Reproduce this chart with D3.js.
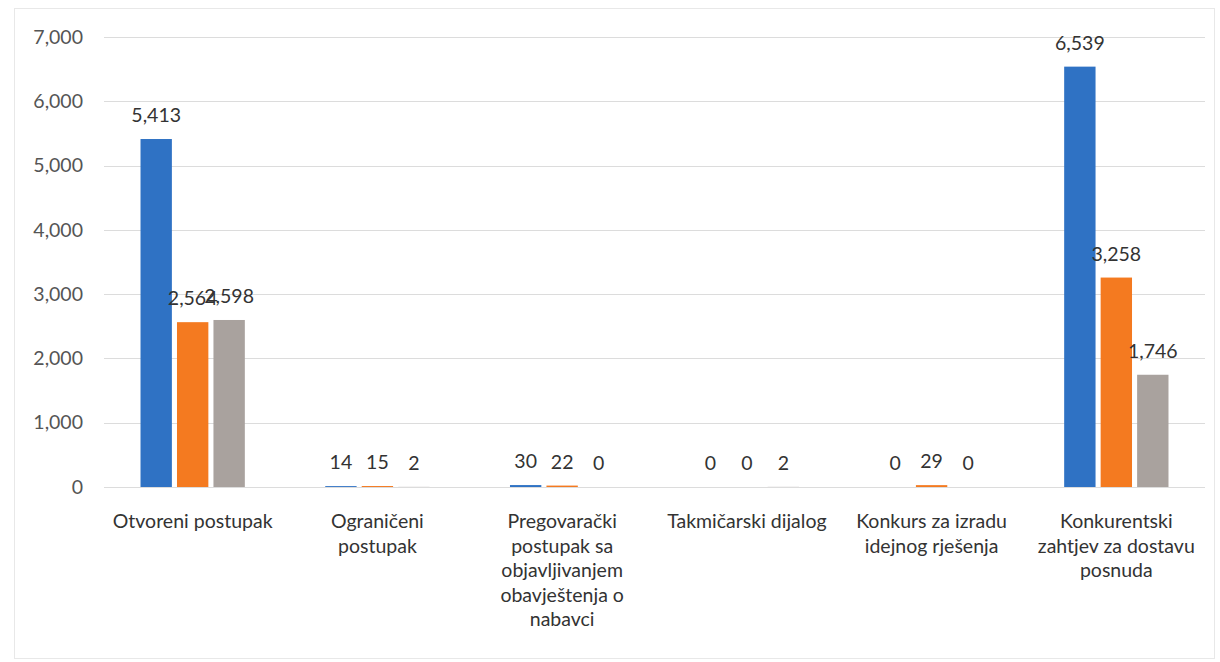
<!DOCTYPE html>
<html>
<head>
<meta charset="utf-8">
<script src="https://cdn.jsdelivr.net/npm/d3@7"></script>
<style>
  body { margin: 0; background: #fff; }
  svg { display: block; }
</style>
</head>
<body>
<script>
// categories (wrapped the same way as the original axis labels)
const categories = [
    "Otvoreni postupak",
    "Ograničeni postupak",
    "Pregovarački postupak sa objavljivanjem obavještenja o nabavci",
    "Takmičarski dijalog",
    "Konkurs za izradu idejnog rješenja",
    "Konkurentski zahtjev za dostavu posnuda"
];
const categoryLines = [
    ["Otvoreni postupak"],
    ["Ograničeni", "postupak"],
    ["Pregovarački", "postupak sa", "objavljivanjem", "obavještenja o", "nabavci"],
    ["Takmičarski dijalog"],
    ["Konkurs za izradu", "idejnog rješenja"],
    ["Konkurentski", "zahtjev za dostavu", "posnuda"]
];

const seriesNames = ["s1", "s2", "s3"];
const series1 = [5413, 14, 30, 0, 0, 6539];
const series2 = [2564, 15, 22, 0, 29, 3258];
const series3 = [2598, 2, 0, 2, 0, 1746];
const yTicks = [0, 1000, 2000, 3000, 4000, 5000, 6000, 7000];

const colors = ["#2f72c4", "#f47a20", "#a9a29e"];

const W = 1220, H = 662;
const margin = { top: 37, right: 15, bottom: 175, left: 104 };
const width = W - margin.left - margin.right,
    height = H - margin.top - margin.bottom;
const fontSize = "19.5px";

const values = [series1, series2, series3];
const rows = categories.map((c, i) => ({
    cat: c,
    lines: categoryLines[i],
    vals: seriesNames.map((s, j) => ({ key: s, idx: j, value: values[j][i] }))
}));

const svg = d3.select("body").append("svg")
    .attr("width", W)
    .attr("height", H)
    .style("font-family", "Lato, 'Open Sans', sans-serif");

// faint frame of the scanned chart area
svg.append("rect")
    .attr("x", 14.5).attr("y", 8.5)
    .attr("width", W - 20).attr("height", H - 12)
    .attr("fill", "none")
    .attr("stroke", "#e8e8e8");

const g = svg.append("g")
    .attr("transform", `translate(${margin.left},${margin.top})`);

const x0 = d3.scaleBand()
    .domain(categories)
    .range([0, width])
    .paddingInner(0.38)
    .paddingOuter(0.17);

const x1 = d3.scaleBand()
    .domain(seriesNames)
    .range([0, x0.bandwidth()])
    .padding(0.14);

const y = d3.scaleLinear()
    .domain([0, 7000])
    .range([height, 0]);

// gridlines
g.append("g")
    .selectAll("line")
    .data(yTicks)
    .join("line")
    .attr("x1", 0)
    .attr("x2", width)
    .attr("y1", d => Math.round(y(d)) + 0.5)
    .attr("y2", d => Math.round(y(d)) + 0.5)
    .attr("stroke", "#dcdcdc");

// y axis labels
const yAxis = g.append("g")
    .call(d3.axisLeft(y).tickValues(yTicks).tickFormat(d3.format(",")).tickSize(0).tickPadding(21));
yAxis.select(".domain").remove();
yAxis.selectAll("text")
    .attr("fill", "#555")
    .style("font-size", fontSize)
    .style("font-family", "Lato, 'Open Sans', sans-serif");

// bars
const group = g.append("g")
    .selectAll("g")
    .data(rows)
    .join("g")
    .attr("transform", d => `translate(${x0(d.cat)},0)`);

group.selectAll("rect")
    .data(d => d.vals)
    .join("rect")
    .attr("x", d => x1(d.key))
    .attr("y", d => y(d.value))
    .attr("width", x1.bandwidth())
    .attr("height", d => height - y(d.value))
    .attr("fill", d => colors[d.idx]);

// value labels
group.selectAll("text")
    .data(d => d.vals)
    .join("text")
    .attr("x", d => x1(d.key) + x1.bandwidth() / 2)
    .attr("y", d => y(d.value) - 17)
    .attr("text-anchor", "middle")
    .attr("fill", "#333")
    .style("font-size", fontSize)
    .text(d => d3.format(",")(d.value));

// category labels
const catLabel = g.append("g")
    .selectAll("text")
    .data(rows)
    .join("text")
    .attr("x", d => x0(d.cat) + x0.bandwidth() / 2)
    .attr("y", height + 41)
    .attr("text-anchor", "middle")
    .attr("fill", "#333")
    .style("font-size", fontSize);

catLabel.selectAll("tspan")
    .data(d => d.lines)
    .join("tspan")
    .attr("x", function () { return d3.select(this.parentNode).attr("x"); })
    .attr("dy", (d, i) => i === 0 ? 0 : 24.5)
    .text(d => d);
</script>
</body>
</html>
